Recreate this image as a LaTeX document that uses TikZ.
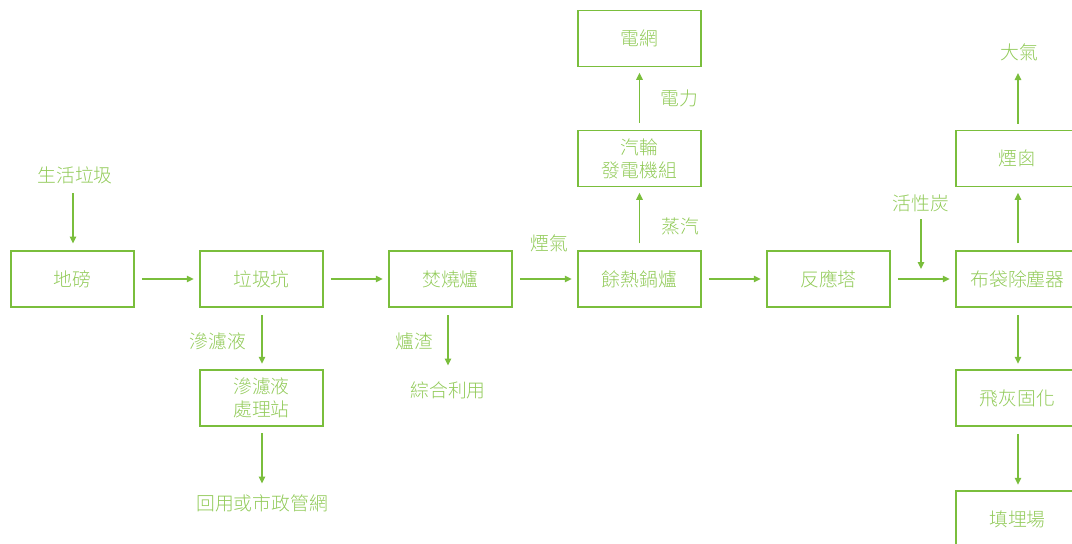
\documentclass[tikz,border=0pt]{standalone}
\usepackage{fontspec}
\setmainfont{Noto Sans CJK TC Light}
\usetikzlibrary{arrows.meta}
\definecolor{gline}{RGB}{122,190,60}
\definecolor{gtext}{RGB}{145,202,88}
\tikzset{
  box/.style={draw=gline, line width=1.5pt, minimum width=123pt, minimum height=56pt, inner sep=0pt, align=center, text=gtext, font=\fontsize{18.8pt}{23pt}\selectfont},
  lbl/.style={inner sep=0pt, text=gtext, font=\fontsize{18.8pt}{23pt}\selectfont},
  arr/.style={draw=gline, line width=1.3pt, -{Triangle[length=7pt,width=6.5pt]}},
  hh/.style={arr, shorten <=7pt, shorten >=5.5pt},
  vv/.style={arr, shorten <=7pt, shorten >=5.5pt}
}
\begin{document}
\begin{tikzpicture}[x=1pt,y=-1pt]
\useasboundingbox (0,0) rectangle (1072,544);
% boxes
\node[box] (dibang) at (72.5,279) {地磅};
\node[box] (keng) at (261.5,279) {垃圾坑};
\node[box] (lu) at (450.5,279) {焚燒爐};
\node[box] (guolu) at (639.5,279) {餘熱鍋爐};
\node[box] (ta) at (828.5,279) {反應塔};
\node[box] (budai) at (1017.5,279) {布袋除塵器};
\node[box] (dianwang) at (639.5,38.5) {電網};
\node[box] (qilun) at (639.5,158.5) {汽輪\\發電機組};
\node[box] (yancong) at (1017.5,158.5) {煙囪};
\node[box] (shenlv) at (261.5,398) {滲濾液\\處理站};
\node[box] (feihui) at (1017.5,398) {飛灰固化};
\node[box] (tianmai) at (1017.5,519) {填埋場};
% labels
\node[lbl] (shenghuo) at (75,175) {生活垃圾};
\node[lbl] (lshen) at (218,341) {滲濾液};
\node[lbl] (lzha) at (414,341) {爐渣};
\node[lbl] (zonghe) at (448,390) {綜合利用};
\node[lbl] (huiyong) at (262,503) {回用或市政管網};
\node[lbl] (lyanqi) at (549,243) {煙氣};
\node[lbl] (lzheng) at (680,226) {蒸汽};
\node[lbl] (ldian) at (679,98) {電力};
\node[lbl] (daqi) at (1019,52) {大氣};
\node[lbl] (huoxing) at (921,203) {活性炭};
% free ends
\coordinate (c1a) at (73,193);
\coordinate (c1b) at (73,243.5);
\coordinate (c2a) at (921,219);
\coordinate (c2b) at (921,269);
\coordinate (c3a) at (448,315);
\coordinate (c3b) at (448,365.5);
\coordinate (c4b) at (262,483.5);
\coordinate (c5b) at (1018,73);
% connectors
\draw[arr] (c1a) -- (c1b);
\draw[hh] (dibang) -- (keng);
\draw[hh] (keng) -- (lu);
\draw[hh] (lu) -- (guolu);
\draw[hh] (guolu) -- (ta);
\draw[hh] (ta) -- (budai);
\draw[arr] (c2a) -- (c2b);
\draw[vv] (guolu) -- (qilun);
\draw[vv] (qilun) -- (dianwang);
\draw[vv] ([xshift=0.5pt]budai.north) -- ([xshift=0.5pt]yancong.south);
\draw[arr, shorten <=6pt] ([xshift=0.5pt]yancong.north) -- (c5b);
\draw[vv] ([xshift=0.5pt]keng.south) -- ([xshift=0.5pt]shenlv.north);
\draw[arr, shorten <=6.5pt] ([xshift=0.5pt]shenlv.south) -- (c4b);
\draw[arr] (c3a) -- (c3b);
\draw[vv] ([xshift=0.5pt]budai.south) -- ([xshift=0.5pt]feihui.north);
\draw[vv] ([xshift=0.5pt]feihui.south) -- ([xshift=0.5pt]tianmai.north);
\end{tikzpicture}
\end{document}
